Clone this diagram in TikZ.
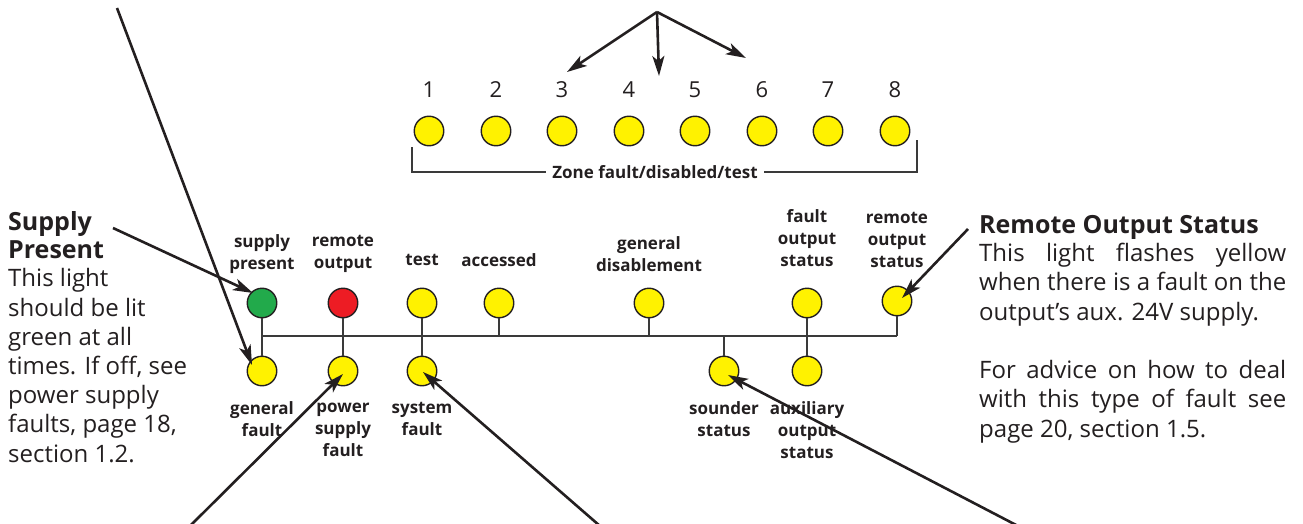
\documentclass[tikz,border=0pt]{standalone}
\usepackage{fontspec}
\setmainfont{Open Sans}
\usetikzlibrary{arrows.meta}
\definecolor{ledy}{HTML}{FFF200}
\definecolor{ledg}{HTML}{22AA4B}
\definecolor{ledr}{HTML}{ED1C24}
\definecolor{ink}{HTML}{231F20}
\definecolor{wirec}{HTML}{3A3A3A}
\begin{document}
\begin{tikzpicture}[x=1pt,y=-1pt,
  led/.style={circle, draw=ink, line width=1.4pt, minimum size=29.5pt, inner sep=0pt, fill=ledy},
  lbl/.style={font=\fontsize{17}{22}\selectfont\bfseries, align=center, text=ink, inner sep=0pt},
  num/.style={font=\fontsize{22}{26}\selectfont, text=ink, inner sep=0pt},
  body/.style={font=\fontsize{24}{29.2}\selectfont, align=left, text=ink, inner sep=0pt, anchor=base west},
  head/.style={font=\fontsize{25}{28}\selectfont\bfseries, align=left, text=ink, inner sep=0pt, anchor=base west},
  wire/.style={draw=wirec, line width=1.5pt},
  ptr/.style={draw=ink, line width=2.6pt, -{Stealth[length=20pt,width=12pt,inset=5pt]}}]
\useasboundingbox (0,0) rectangle (1303,524);

% zone LEDs
\foreach \i/\x in {1/429,2/496,3/562,4/629,5/695,6/762,7/828,8/895}{
  \node[led] (z\i) at (\x,131) {};
  \node[num] (n\i) at (\x,90) {\i};
}
\node[lbl, inner xsep=6pt] (zone) at (655,172) {Zone fault/disabled/test};
\coordinate (bl) at (412,147);
\coordinate (br) at (917,140);
\draw[wire] (bl) |- (zone.west);
\draw[wire] (br) |- (zone.east);

% top arrows
\coordinate (apex) at (657,12);
\coordinate (t3) at (567,72);
\coordinate (t4) at (659,76);
\coordinate (t6) at (746,58);
\draw[ptr] (apex) -- (t3);
\draw[ptr] (apex) -- (t4);
\draw[ptr] (apex) -- (t6);

% panel LEDs
\node[led, fill=ledg] (sp) at (262,303) {};
\node[led, fill=ledr] (ro) at (343,303) {};
\node[led] (te) at (422,303) {};
\node[led] (ac) at (499,303) {};
\node[led] (gd) at (649,303) {};
\node[led] (fo) at (807,303) {};
\node[led] (rs) at (897,301) {};
\node[led] (gf) at (262,371) {};
\node[led] (pf) at (343,371) {};
\node[led] (sf) at (422,371) {};
\node[led] (ss) at (724,371) {};
\node[led] (ao) at (807,371) {};

% bus
\coordinate (busL) at (262,336);
\coordinate (busR) at (897,336);
\draw[wire] (busL) -- (busR);
\draw[wire] (sp.south) -- (gf.north);
\draw[wire] (ro.south) -- (pf.north);
\draw[wire] (te.south) -- (sf.north);
\draw[wire] (fo.south) -- (ao.north);
\draw[wire] (ac.south) -- (ac.south |- busL);
\draw[wire] (gd.south) -- (gd.south |- busL);
\draw[wire] (ss.north) -- (ss.north |- busL);
\draw[wire] (rs.south) -- (busR);

% labels
\node[lbl] (lsp) at (262,254) {supply\\present};
\node[lbl] (lro) at (343,254) {remote\\output};
\node[lbl] (lte) at (422,260) {test};
\node[lbl] (lac) at (499,260) {accessed};
\node[lbl] (lgd) at (649,254) {general\\disablement};
\node[lbl] (lfo) at (807,238) {fault\\output\\status};
\node[lbl] (lrs) at (897,240) {remote\\output\\status};
\node[lbl] (lgf) at (262,419) {general\\fault};
\node[lbl] (lpf) at (343,430) {power\\supply\\fault};
\node[lbl] (lsf) at (422,419) {system\\fault};
\node[lbl] (lss) at (724,419) {sounder\\status};
\node[lbl] (lao) at (807,430) {auxiliary\\output\\status};

% left text (base anchor = baseline of last line)
\node[head] (sph) at (8,258) {Supply\\Present};
\node[body] (spb) at (8,462) {This light\\should be lit\\green at all\\times. If off, see\\power supply\\faults, page 18,\\section 1.2.};

% right text
\node[head] (rsh) at (979,233) {Remote Output Status};
\node[body] (rsb1) at (979,320) {\makebox[307pt][s]{This light flashes yellow}\\\makebox[307pt][s]{when there is a fault on the}\\output’s aux. 24V supply.};
\node[body] (rsb2) at (979,437) {\makebox[307pt][s]{For advice on how to deal}\\\makebox[307pt][s]{with this type of fault see}\\page 20, section 1.5.};

% pointer arrows
\coordinate (s1) at (117,8);
\coordinate (s2) at (113,228);
\coordinate (s3) at (190,526);
\coordinate (s4) at (600,526);
\coordinate (s5) at (1018,526);
\coordinate (s6) at (968,229);
\draw[ptr] (s1) -- ([shift={(-10,-6)}]gf.center);
\draw[ptr] (s2) -- ([shift={(-9,-10)}]sp.center);
\draw[ptr] (s3) -- ([shift={(0,3)}]pf.center);
\draw[ptr] (s4) -- ([shift={(1,1)}]sf.center);
\draw[ptr] (s5) -- ([shift={(4,4)}]ss.center);
\draw[ptr] (s6) -- ([shift={(5,-3)}]rs.center);
\end{tikzpicture}
\end{document}
